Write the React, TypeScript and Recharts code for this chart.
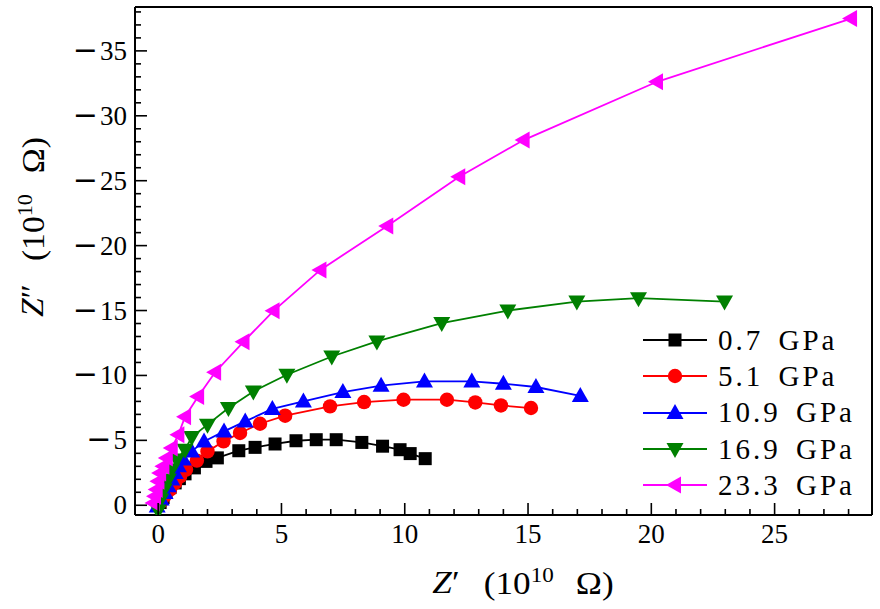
import { ScatterChart, Scatter, XAxis, YAxis } from 'recharts'

const FONT = "'Liberation Serif', 'Times New Roman', serif"

const PRESSURES = ['0.7 GPa', '5.1 GPa', '10.9 GPa', '16.9 GPa', '23.3 GPa']
const COLORS = ['#000000', '#ff0000', '#0000ff', '#008000', '#ff00ff']
const MARKERS = ['square', 'circle', 'up', 'down', 'left']

// Z' and Z'' (units of 1e10 ohm), from the origin outwards
const zRe07 = [0.08, 0.2, 0.32, 0.48, 0.69, 0.86, 1.09, 1.47, 1.94, 2.4, 3.27, 3.93, 4.74, 5.59, 6.41, 7.22, 8.26, 9.1, 9.81, 10.22, 10.83]
const zIm07 = [-0.21, -0.59, -0.98, -1.36, -1.72, -2.05, -2.42, -2.88, -3.38, -3.65, -4.2, -4.46, -4.72, -4.97, -5.05, -5.05, -4.84, -4.55, -4.28, -3.98, -3.59]

const zRe51 = [0.12, 0.28, 0.48, 0.69, 0.89, 1.13, 1.57, 2.0, 2.65, 3.32, 4.13, 5.15, 6.97, 8.35, 9.95, 11.71, 12.86, 13.9, 15.12]
const zIm51 = [-0.28, -0.75, -1.2, -1.72, -2.23, -2.75, -3.44, -4.15, -4.92, -5.57, -6.28, -6.9, -7.62, -7.95, -8.13, -8.13, -7.92, -7.69, -7.49]

const zRe109 = [-0.04, 0.12, 0.28, 0.41, 0.55, 0.69, 0.82, 1.02, 1.36, 1.86, 2.67, 3.53, 4.63, 5.89, 7.49, 9.04, 10.8, 12.72, 14.0, 15.32, 17.12]
const zIm109 = [0.1, -0.44, -0.95, -1.46, -1.98, -2.49, -3.0, -3.52, -4.15, -4.92, -5.69, -6.46, -7.42, -8.0, -8.72, -9.21, -9.54, -9.54, -9.36, -9.11, -8.42]

const zRe169 = [0.0, 0.1, 0.24, 0.41, 0.55, 0.75, 1.09, 1.36, 2.0, 2.85, 3.86, 5.22, 7.04, 8.87, 11.5, 14.18, 16.98, 19.48, 22.97]
const zIm169 = [0.4, -0.44, -1.21, -1.98, -2.75, -3.52, -4.28, -5.26, -6.21, -7.49, -8.77, -10.05, -11.46, -12.62, -14.03, -15.0, -15.69, -15.95, -15.69]

const zRe233 = [-0.19, -0.13, -0.06, 0.01, 0.08, 0.21, 0.35, 0.55, 0.82, 1.09, 1.62, 2.31, 3.46, 4.68, 6.58, 9.29, 12.21, 14.82, 20.23, 28.1]
const zIm233 = [-0.18, -0.69, -1.21, -1.85, -2.49, -3.0, -3.65, -4.42, -5.44, -6.82, -8.38, -10.25, -12.59, -14.98, -18.13, -21.52, -25.31, -28.13, -32.62, -37.49]

const Z_RE = [zRe07, zRe51, zRe109, zRe169, zRe233]
const Z_IM = [zIm07, zIm51, zIm109, zIm169, zIm233]

const X_TICKS = [0, 1, 2, 3, 4, 5, 6, 7, 8, 9, 10, 11, 12, 13, 14, 15, 16, 17, 18, 19, 20, 21, 22, 23, 24, 25, 26, 27, 28]
const Y_TICKS = [-38, -37, -36, -35, -34, -33, -32, -31, -30, -29, -28, -27, -26, -25, -24, -23, -22, -21, -20, -19, -18, -17, -16, -15, -14, -13, -12, -11, -10, -9, -8, -7, -6, -5, -4, -3, -2, -1, 0]

const series = PRESSURES.map((name, i) => ({
  name,
  color: COLORS[i],
  marker: MARKERS[i],
  data: Z_RE[i].map((zr, j) => ({ zr, zi: Z_IM[i][j] })),
}))

function Marker({ cx, cy, kind, color }: { cx: number; cy: number; kind: string; color: string }) {
  if (kind === 'square') return <rect x={cx - 6.5} y={cy - 6.5} width={13} height={13} fill={color} />
  if (kind === 'circle') return <circle cx={cx} cy={cy} r={7.2} fill={color} />
  if (kind === 'up') return <polygon points={`${cx},${cy - 9} ${cx + 8.5},${cy + 6} ${cx - 8.5},${cy + 6}`} fill={color} />
  if (kind === 'down') return <polygon points={`${cx},${cy + 9} ${cx + 8.5},${cy - 6} ${cx - 8.5},${cy - 6}`} fill={color} />
  return <polygon points={`${cx - 9},${cy} ${cx + 6},${cy - 8.5} ${cx + 6},${cy + 8.5}`} fill={color} />
}

const XTick = (props: any) => {
  const { x, y, payload } = props
  const v = payload.value
  const major = v % 5 === 0
  return (
    <g>
      <line x1={x} y1={y} x2={x} y2={y - (major ? 12 : 6)} stroke='#000' strokeWidth={1.6} />
      {major && (
        <text x={x} y={y + 28} textAnchor='middle' fontSize={27} fontFamily={FONT} fill='#000'>
          {v}
        </text>
      )}
    </g>
  )
}

const YTick = (props: any) => {
  const { x, y, payload } = props
  const v = payload.value
  const major = v % 5 === 0
  return (
    <g>
      <line x1={x} y1={y} x2={x + (major ? 12 : 6)} y2={y} stroke='#000' strokeWidth={1.6} />
      {major && (
        <text x={x - 8} y={y + 9} textAnchor='end' fontSize={27} fontFamily={FONT} fill='#000'>
          {v < 0 && (
            <tspan fontFamily="'DejaVu Sans', sans-serif" fontSize={30}>
              {'\u2212'}
            </tspan>
          )}
          <tspan dx={v < 0 ? 2 : 0}>{Math.abs(v)}</tspan>
        </text>
      )}
    </g>
  )
}

function LegendBox() {
  return (
    <div style={{ position: 'absolute', left: 640, top: 322, fontFamily: FONT, fontSize: 29 }}>
      {series.map((s) => (
        <div key={s.name} style={{ display: 'flex', alignItems: 'center', height: 36.3 }}>
          <svg width={70} height={24}>
            <line x1={3} y1={12} x2={67} y2={12} stroke={s.color} strokeWidth={1.8} />
            <Marker cx={35} cy={12} kind={s.marker} color={s.color} />
          </svg>
          <span style={{ marginLeft: 8, whiteSpace: 'nowrap', letterSpacing: 3, wordSpacing: 5 }}>{s.name}</span>
        </div>
      ))}
    </div>
  )
}

function AxisTitle({ prime, style }: { prime: string; style: React.CSSProperties }) {
  return (
    <div style={{ position: 'absolute', fontFamily: FONT, fontSize: 32, whiteSpace: 'nowrap', ...style }}>
      <i>Z</i>
      {prime}
      <span style={{ marginLeft: 22 }}>(10</span>
      <sup style={{ fontSize: 21 }}>10</sup>
      <span style={{ marginLeft: 20 }}>Ω)</span>
    </div>
  )
}

export default function App() {
  return (
    <div style={{ position: 'absolute', left: 0, top: 0, width: 880, height: 609, background: '#fff' }}>
      <ScatterChart width={880} height={609} margin={{ top: 6, right: 7, bottom: 93, left: 134 }}>
        <XAxis
          type='number'
          dataKey='zr'
          domain={[-0.94, 28.95]}
          allowDataOverflow
          ticks={X_TICKS}
          interval={0}
          height={1}
          tickSize={0}
          tickMargin={0}
          tickLine={false}
          tick={XTick}
          axisLine={{ stroke: '#000', strokeWidth: 2 }}
        />
        <XAxis xAxisId='top' orientation='top' type='number' domain={[0, 1]} height={1} tick={false} tickLine={false} axisLine={{ stroke: '#000', strokeWidth: 2 }} />
        <YAxis
          type='number'
          dataKey='zi'
          domain={[-38.38, 0.75]}
          allowDataOverflow
          reversed
          ticks={Y_TICKS}
          interval={0}
          width={1}
          tickSize={0}
          tickMargin={0}
          tickLine={false}
          tick={YTick}
          axisLine={{ stroke: '#000', strokeWidth: 2 }}
        />
        <YAxis yAxisId='right' orientation='right' type='number' domain={[0, 1]} width={1} tick={false} tickLine={false} axisLine={{ stroke: '#000', strokeWidth: 2 }} />
        {series.map((s) => (
          <Scatter
            key={s.name}
            name={s.name}
            data={s.data}
            fill={s.color}
            line={{ stroke: s.color, strokeWidth: 1.8 }}
            lineType='joint'
            shape={(p: any) => <Marker cx={p.cx} cy={p.cy} kind={s.marker} color={s.color} />}
            isAnimationActive={false}
          />
        ))}
      </ScatterChart>
      <LegendBox />
      <AxisTitle prime={'\u2032'} style={{ left: 523, top: 582, transform: 'translate(-50%, -50%) scaleX(1.1)' }} />
      <AxisTitle prime={'\u2033'} style={{ left: 32, top: 227, transform: 'translate(-50%, -50%) rotate(-90deg) scaleX(1.05)' }} />
    </div>
  )
}
